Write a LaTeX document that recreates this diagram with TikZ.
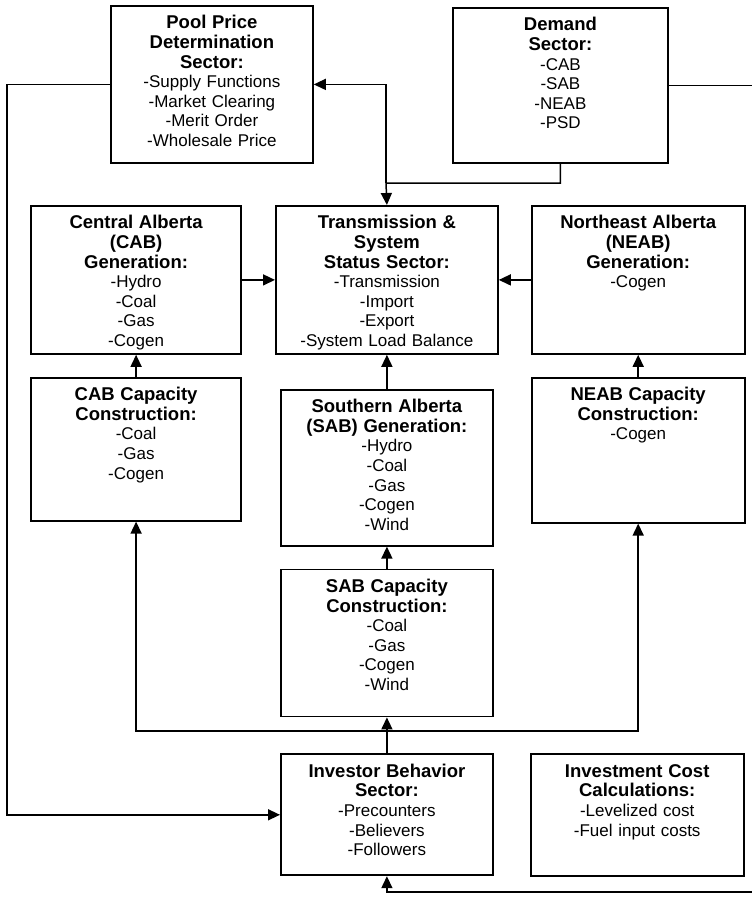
\documentclass[tikz,border=0pt]{standalone}
\usepackage{fontspec}
\setmainfont{Liberation Sans}
\usetikzlibrary{positioning,arrows.meta}
\newcommand{\hd}[1]{{\fontsize{18.5}{19.6}\selectfont\bfseries #1}}

\begin{document}
\begin{tikzpicture}[
x=1pt, y=-1pt,
node distance = 22pt and 33pt,
 sector/.style 2 args = {draw, line width=1.8pt, align=center, inner sep=0pt,
                         text width=#1pt, text height=23pt, text depth=#2pt,
                         font=\fontsize{17}{19.6}\selectfont},
   link/.style = {line width=1.5pt, -{Triangle[length=12pt,width=11pt]}}
                    ]
\useasboundingbox (0,0) rectangle (752,903);
    \begin{scope}[nodes={anchor=north west}]
\node (pool)    [sector={202}{134}] at (110,5) {\hd{Pool Price\\Determination\\Sector:}\\-Supply Functions\\-Market Clearing\\-Merit Order\\-Wholesale Price};
\node (demand)  [sector={215}{132}] at (452,7) {\hd{Demand\\Sector:}\\-CAB\\-SAB\\-NEAB\\-PSD};
\node (trans)   [sector={222}{125}] at (275,205) {\hd{Transmission \&\\System\\Status Sector:}\\-Transmission\\-Import\\-Export\\-System Load Balance};
\node (cab)     [sector={210}{125}, left=33pt of trans.north west, anchor=north east] {\hd{Central Alberta\\(CAB)\\Generation:}\\-Hydro\\-Coal\\-Gas\\-Cogen};
\node (neab)    [sector={213}{125}, right=32pt of trans.north east, anchor=north west] {\hd{Northeast Alberta\\(NEAB)\\Generation:}\\-Cogen};
\node (cabcap)  [sector={210}{120}, below=of cab] {\hd{CAB Capacity\\Construction:}\\-Coal\\-Gas\\-Cogen};
\node (neabcap) [sector={213}{122}, below=of neab] {\hd{NEAB Capacity\\Construction:}\\-Cogen};
\node (sab)     [sector={212}{133}, below=34pt of trans] {\hd{Southern Alberta\\(SAB) Generation:}\\-Hydro\\-Coal\\-Gas\\-Cogen\\-Wind};
\node (sabcap)  [sector={212}{124}, below=of sab] {\hd{SAB Capacity\\Construction:}\\-Coal\\-Gas\\-Cogen\\-Wind};
\node (inv)     [sector={212}{98}, below=36pt of sabcap] {\hd{Investor Behavior\\Sector:}\\-Precounters\\-Believers\\-Followers};
\node (cost)    [sector={213}{99}, right=36pt of inv.north east, anchor=north west] {\hd{Investment Cost\\Calculations:}\\-Levelized cost\\-Fuel input costs};
    \end{scope}

\coordinate (lft) at (7,450);
\coordinate (rgt) at (752,0);
\coordinate (bot) at (752,892);
\coordinate (jn)  at (386,183);
\coordinate (br)  at (386,731);

\draw   (cab.east)      edge[link] (trans.west)
        (neab.west)     edge[link] (trans.east)
        (sab)           edge[link] (trans)
        (cabcap)        edge[link] (cab)
        (neabcap)       edge[link] (neab)
        (sabcap)        edge[link] (sab)
        (inv)           edge[link] (sabcap);

\draw[link] (pool.west) -| (lft) |- (inv.west);
\draw[line width=1.5pt] (demand.east) -- (demand.east -| rgt);
\draw[link] (demand.south) |- (jn) -- (trans.north);
\draw[link] (jn) |- (pool.east);
\draw[link] (br) -| (cabcap.south);
\draw[link] (br) -| (neabcap.south);
\draw[link] (bot) -| (inv.south);
    \end{tikzpicture}
\end{document}
